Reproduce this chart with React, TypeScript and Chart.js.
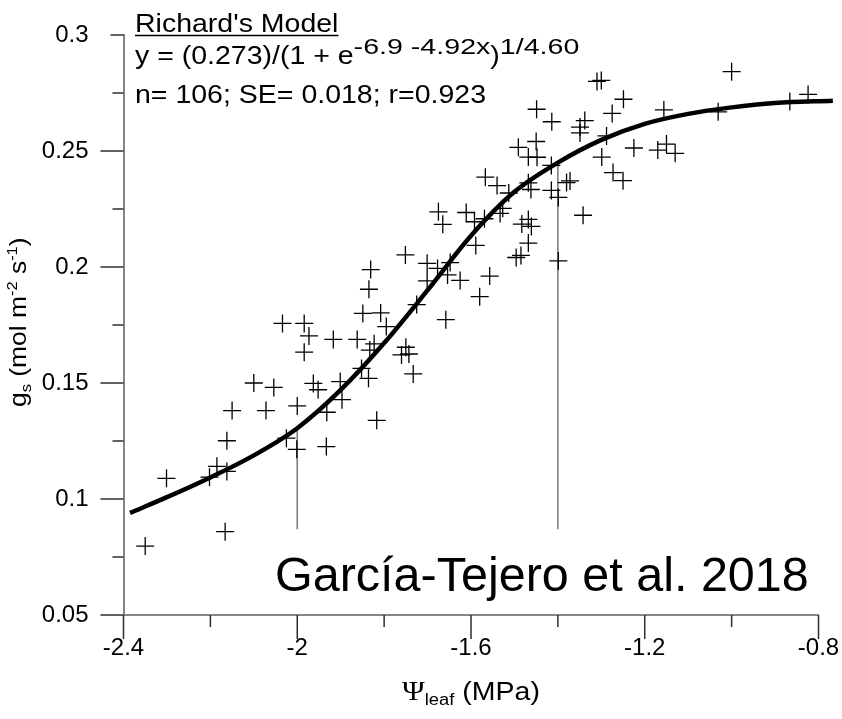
import React, { useEffect, useRef } from "react";
import { Chart, registerables } from "chart.js";

Chart.register(...registerables);

// Leaf water potential (MPa) for each measurement
const psiLeaf = [
  -2.35, -2.301, -2.202, -2.185, -2.162, -2.166, -2.162, -2.15, -2.072, -2.1,
  -2.054, -2.025, -2.001, -2.0, -2.034, -1.984, -1.973, -1.984, -1.963, -1.952,
  -1.932, -1.933, -1.917, -1.862, -1.823, -1.833, -1.901, -1.897, -1.849, -1.808,
  -1.795, -1.835, -1.831, -1.852, -1.836, -1.817, -1.751, -1.701, -1.677, -1.648,
  -1.654, -1.701, -1.625, -1.725, -1.658, -1.75, -1.76, -1.743, -1.733, -1.675,
  -1.665, -1.611, -1.592, -1.569, -1.533, -1.527, -1.589, -1.557, -1.58, -1.567,
  -1.54, -1.513, -1.483, -1.468, -1.461, -1.468, -1.496, -1.485, -1.468, -1.462,
  -1.415, -1.399, -1.38, -1.372, -1.342, -1.399, -1.491, -1.45, -1.468, -1.448,
  -1.415, -1.449, -1.414, -1.349, -1.338, -1.349, -1.288, -1.299, -1.273, -1.25,
  -1.31, -1.3, -1.249, -1.275, -1.225, -1.17, -1.15, -1.13, -1.156, -1.0,
  -1.031, -0.866, -0.824,
];

// Stomatal conductance (mol m-2 s-1) for each measurement
const gsObserved = [
  0.0797, 0.1089, 0.1094, 0.1141, 0.1119, 0.0859, 0.1251, 0.1381, 0.1381, 0.15,
  0.1481, 0.1262, 0.1214, 0.1401, 0.1757, 0.1757, 0.1703, 0.1633, 0.1498, 0.1471,
  0.1374, 0.1226, 0.1688, 0.1688, 0.1669, 0.1642, 0.1506, 0.1428, 0.18, 0.1802,
  0.1743, 0.1904, 0.1989, 0.1563, 0.152, 0.1339, 0.2052, 0.2016, 0.1994, 0.2019,
  0.1966, 0.194, 0.1942, 0.1838, 0.1773, 0.1654, 0.1621, 0.1625, 0.1539, 0.2238,
  0.2184, 0.2235, 0.2195, 0.2208, 0.2231, 0.2253, 0.2093, 0.1961, 0.1872, 0.2387,
  0.2351, 0.2319, 0.2185, 0.2205, 0.2175, 0.2103, 0.2041, 0.205, 0.2363, 0.2334,
  0.233, 0.23, 0.2364, 0.2371, 0.2223, 0.2026, 0.2516, 0.2541, 0.2474, 0.2473,
  0.2438, 0.268, 0.2626, 0.2603, 0.2631, 0.2578, 0.2565, 0.2474, 0.2407, 0.2372,
  0.28, 0.2804, 0.2723, 0.2662, 0.2513, 0.2504, 0.253, 0.249, 0.2677, 0.2842,
  0.2669, 0.2713, 0.2744,
];

// Fitted Richards curve, knots along the drawn line
const fitPsi = [
  -2.385, -2.3, -2.2, -2.1, -2.0, -1.9, -1.8, -1.7, -1.6, -1.5, -1.4, -1.3,
  -1.2, -1.1, -1.0, -0.9, -0.767,
];
const fitGs = [
  0.094, 0.1008, 0.1093, 0.1188, 0.1305, 0.147, 0.1672, 0.19, 0.2135, 0.2324,
  0.245, 0.2548, 0.2617, 0.266, 0.2688, 0.2707, 0.2717,
];

// Vertical reference lines dropped from the fitted curve
const dropPsi = [-2.0, -1.4];
const dropTopGs = [0.13, 0.245];
const dropBaseGs = 0.087;

// Axis ranges and ticks
const xRange = [-2.4, -0.8];
const yRange = [0.05, 0.3];
const xMajorTicks = [-2.4, -2.0, -1.6, -1.2, -0.8];
const xTickLabels = ["-2.4", "-2", "-1.6", "-1.2", "-0.8"];
const xMinorTicks = [-2.2, -1.8, -1.4, -1.0];
const yMajorTicks = [0.05, 0.1, 0.15, 0.2, 0.25, 0.3];
const yTickLabels = ["0.05", "0.1", "0.15", "0.2", "0.25", "0.3"];
const yMinorTicks = [0.075, 0.125, 0.175, 0.225, 0.275];

// Text
const modelTitle = "Richard's Model";
const eqBase = "y = (0.273)/(1 + e";
const eqExponent = "-6.9 -4.92x";
const eqClose = ")";
const eqPower = "1/4.60";
const statsLine = "n= 106; SE= 0.018; r=0.923";
const citation = "García-Tejero et al. 2018";

const SANS = '"Liberation Sans", Arial, Helvetica, sans-serif';
const SERIF = '"Liberation Serif", "Times New Roman", serif';

type Run = { text: string; size: number; dy?: number; family?: string; sx?: number };

function runsWidth(ctx: CanvasRenderingContext2D, runs: Run[]) {
  let w = 0;
  for (const r of runs) {
    ctx.font = `${r.size}px ${r.family ?? SANS}`;
    w += ctx.measureText(r.text).width * (r.sx ?? 1);
  }
  return w;
}

function drawRuns(ctx: CanvasRenderingContext2D, runs: Run[], x: number, y: number) {
  let cx = 0;
  for (const r of runs) {
    const sx = r.sx ?? 1;
    ctx.save();
    ctx.translate(x + cx, y + (r.dy ?? 0));
    ctx.scale(sx, 1);
    ctx.font = `${r.size}px ${r.family ?? SANS}`;
    ctx.fillText(r.text, 0, 0);
    ctx.restore();
    ctx.font = `${r.size}px ${r.family ?? SANS}`;
    cx += ctx.measureText(r.text).width * sx;
  }
  return cx;
}

const axisTicksPlugin = {
  id: "axisTicks",
  afterDraw(chart: Chart) {
    const { ctx, chartArea } = chart;
    const xs = chart.scales.x;
    const ys = chart.scales.y;
    ctx.save();
    ctx.strokeStyle = "#2e2e2e";
    ctx.lineWidth = 1.5;
    ctx.beginPath();
    for (const v of xMajorTicks) {
      const px = xs.getPixelForValue(v);
      ctx.moveTo(px, chartArea.bottom);
      ctx.lineTo(px, chartArea.bottom + 24);
    }
    for (const v of xMinorTicks) {
      const px = xs.getPixelForValue(v);
      ctx.moveTo(px, chartArea.bottom);
      ctx.lineTo(px, chartArea.bottom + 12);
    }
    yMajorTicks.forEach((v, i) => {
      const py = ys.getPixelForValue(v);
      const len = i === yMajorTicks.length - 1 ? 13 : 23;
      ctx.moveTo(chartArea.left - len, py);
      ctx.lineTo(chartArea.left, py);
    });
    for (const v of yMinorTicks) {
      const py = ys.getPixelForValue(v);
      ctx.moveTo(chartArea.left - 11, py);
      ctx.lineTo(chartArea.left, py);
    }
    ctx.stroke();
    ctx.restore();
  },
};

const labelsPlugin = {
  id: "labels",
  afterDraw(chart: Chart) {
    const { ctx } = chart;
    ctx.save();
    ctx.fillStyle = "#000";
    ctx.textAlign = "left";
    ctx.textBaseline = "alphabetic";

    // model annotation
    const sx = 1.14;
    const w1 = drawRuns(ctx, [{ text: modelTitle, size: 25, sx }], 135, 32);
    ctx.strokeStyle = "#000";
    ctx.lineWidth = 1.5;
    ctx.beginPath();
    ctx.moveTo(135, 35.5);
    ctx.lineTo(135 + w1, 35.5);
    ctx.stroke();
    drawRuns(
      ctx,
      [
        { text: eqBase, size: 25, sx },
        { text: eqExponent, size: 22, sx: 1.3, dy: -10 },
        { text: eqClose, size: 25, sx },
        { text: eqPower, size: 22, sx: 1.3, dy: -10 },
      ],
      135,
      64
    );
    drawRuns(ctx, [{ text: statsLine, size: 25, sx }], 135, 103);

    // citation
    drawRuns(ctx, [{ text: citation, size: 48.5 }], 275, 591);

    // x axis title
    const xRuns: Run[] = [
      { text: "Ψ", size: 28, family: SERIF, sx: 1.1 },
      { text: "leaf", size: 16, dy: 5, sx: 1.15 },
      { text: " (MPa)", size: 25, sx: 1.14 },
    ];
    const xw = runsWidth(ctx, xRuns);
    const cx = (chart.chartArea.left + chart.chartArea.right) / 2;
    drawRuns(ctx, xRuns, cx - xw / 2, 700);

    // y axis title
    const ysx = 1.1;
    const yRuns: Run[] = [
      { text: "g", size: 24, sx: ysx },
      { text: "s", size: 15, dy: 5, sx: ysx },
      { text: " (mol m", size: 24, sx: ysx },
      { text: "-2", size: 15, dy: -9, sx: ysx },
      { text: " s", size: 24, sx: ysx },
      { text: "-1", size: 15, dy: -9, sx: ysx },
      { text: ")", size: 24, sx: ysx },
    ];
    ctx.translate(26, 407);
    ctx.rotate(-Math.PI / 2);
    drawRuns(ctx, yRuns, 0, 0);
    ctx.restore();
  },
};

export default function App() {
  const canvasRef = useRef<HTMLCanvasElement | null>(null);

  useEffect(() => {
    document.body.style.margin = "0";
    const canvas = canvasRef.current;
    if (!canvas) return;

    const points = psiLeaf.map((x, i) => ({ x, y: gsObserved[i] }));
    const fit = fitPsi.map((x, i) => ({ x, y: fitGs[i] }));
    const drops = dropPsi.map((x, i) => ({
      type: "line" as const,
      data: [
        { x, y: dropBaseGs },
        { x, y: dropTopGs[i] },
      ],
      borderColor: "#7c7c7c",
      borderWidth: 1.6,
      pointRadius: 0,
      fill: false,
      order: 3,
    }));

    const tickFont = { family: SANS, size: 24 };

    const chart = new Chart(canvas, {
      type: "scatter",
      data: {
        datasets: [
          ...drops,
          {
            type: "line" as const,
            data: fit,
            borderColor: "#000",
            borderWidth: 4.5,
            pointRadius: 0,
            fill: false,
            cubicInterpolationMode: "monotone",
            clip: false,
            order: 2,
          },
          {
            type: "scatter" as const,
            data: points,
            pointStyle: "cross",
            pointRadius: 9,
            borderColor: "#000",
            borderWidth: 1.3,
            backgroundColor: "#000",
            clip: false,
            order: 1,
          },
        ] as any,
      },
      options: {
        responsive: false,
        maintainAspectRatio: false,
        animation: false,
        devicePixelRatio: 1,
        events: [],
        layout: { padding: { left: 0, top: 35, right: 23.5, bottom: 0 } },
        plugins: {
          legend: { display: false },
          tooltip: { enabled: false },
        },
        scales: {
          x: {
            type: "linear",
            position: "bottom",
            bounds: "data",
            afterDataLimits: (s: any) => {
              s.min = xRange[0];
              s.max = xRange[1];
            },
            grid: { display: false, drawTicks: false },
            border: { display: true, color: "#858585", width: 2 },
            ticks: {
              font: tickFont,
              color: "#000",
              padding: 19,
              maxRotation: 0,
              autoSkip: false,
              callback: (_v: any, i: number) => xTickLabels[i],
            },
            afterBuildTicks: (s: any) => {
              s.ticks = xMajorTicks.map((value) => ({ value }));
              s.min = xRange[0];
              s.max = xRange[1];
            },
            afterFit: (s: any) => {
              s.height = 104;
              s.paddingLeft = 0;
              s.paddingRight = 0;
            },
          },
          y: {
            type: "linear",
            position: "left",
            min: yRange[0],
            max: yRange[1],
            grid: { display: false, drawTicks: false },
            border: { display: true, color: "#858585", width: 2 },
            ticks: {
              font: tickFont,
              color: "#000",
              padding: 35,
              autoSkip: false,
              callback: (_v: any, i: number) => yTickLabels[i],
            },
            afterBuildTicks: (s: any) => {
              s.ticks = yMajorTicks.map((value) => ({ value }));
            },
            afterFit: (s: any) => {
              s.width = 123.5;
              s.paddingTop = 0;
              s.paddingBottom = 0;
            },
          },
        },
      } as any,
      plugins: [axisTicksPlugin, labelsPlugin],
    });

    return () => chart.destroy();
  }, []);

  return (
    <canvas
      ref={canvasRef}
      width={842}
      height={719}
      style={{ display: "block", width: 842, height: 719 }}
    />
  );
}
